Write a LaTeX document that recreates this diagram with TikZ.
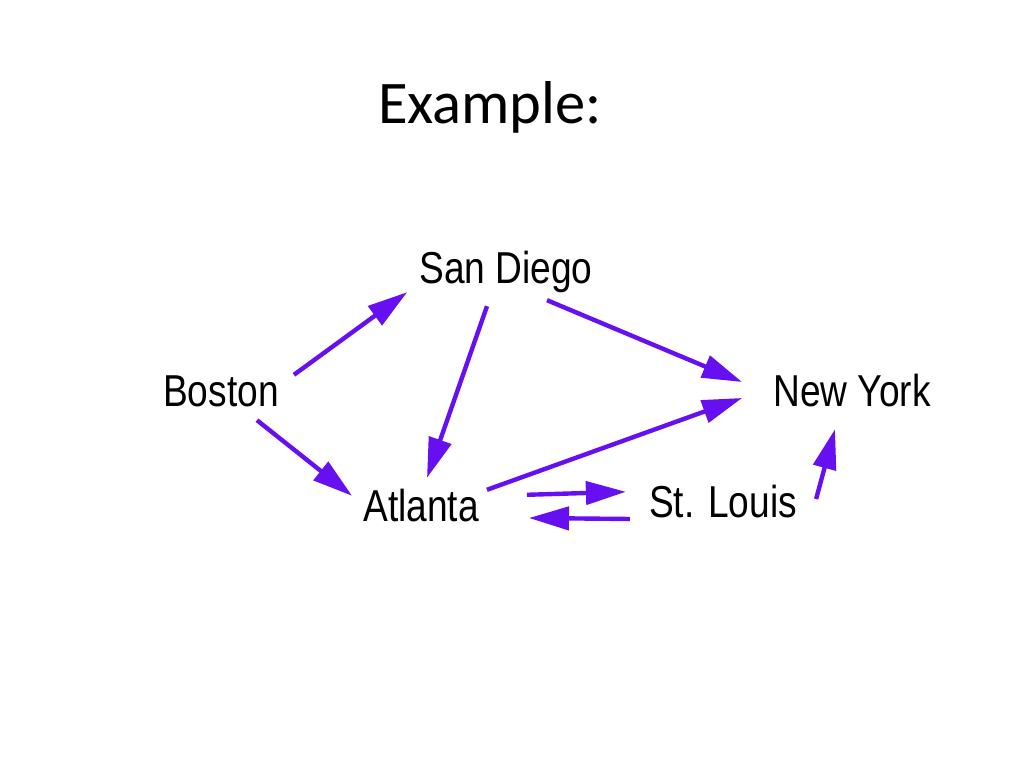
\documentclass[tikz,border=0pt]{standalone}
\usepackage{fontspec}
\setmainfont{Carlito}
\newfontfamily\cityfont[FakeStretch=0.83]{Liberation Sans}
\usetikzlibrary{arrows.meta}
\definecolor{arrowpurple}{RGB}{102,16,242}

\begin{document}
\begin{tikzpicture}[x=1pt, y=1pt, city/.style={font=\cityfont\fontsize{44.7}{50}\selectfont,
		anchor=base, inner sep=0pt, text height=32pt, text depth=10pt},
	arr/.style={draw=arrowpurple, line width=4.4pt, -{Triangle[length=40pt,width=23pt]}}]
	\useasboundingbox (0, 0) rectangle (1024, 768);
	\node[anchor=base, inner sep=0pt, font=\fontsize{60.5}{66}\selectfont] (title) at (490, 644) {Example:};
	\node[city] (bos) at (221, 361) {Boston};
	\node[city] (sd) at (506, 484) {San Diego};
	\node[city] (atl) at (421, 246) {Atlanta};
	\node[city] (ny) at (852, 361) {New York};
	\node[city] (stl) at (723, 250) {St. Louis};
	\draw[arr] ([xshift=15pt]bos.north east) to ([shift={(-12pt,2pt)}]sd.south west);
	\draw[arr] ([shift={(-22pt,-3pt)}]bos.south east) to ([shift={(-11pt,-6pt)}]atl.north west);
	\draw[arr] ([shift={(-19pt,-12pt)}]sd.south) to ([shift={(6pt,12pt)}]atl.north);
	\draw[arr] ([shift={(41pt,-6pt)}]sd.south) to ([shift={(-31pt,14pt)}]ny.west);
	\draw[arr] ([xshift=8pt]atl.north east) to ([shift={(-31pt,-2pt)}]ny.west);
	\draw[arr] ([shift={(48pt,-5pt)}]atl.north east) to ([shift={(-23pt,-6pt)}]stl.north west);
	\draw[arr] ([shift={(-19pt,-12pt)}]stl.west) to ([shift={(50pt,-7pt)}]atl.east);
	\draw[arr] ([shift={(19pt,8pt)}]stl.east) to ([shift={(-17pt,-12pt)}]ny.south);
\end{tikzpicture}
\end{document}
